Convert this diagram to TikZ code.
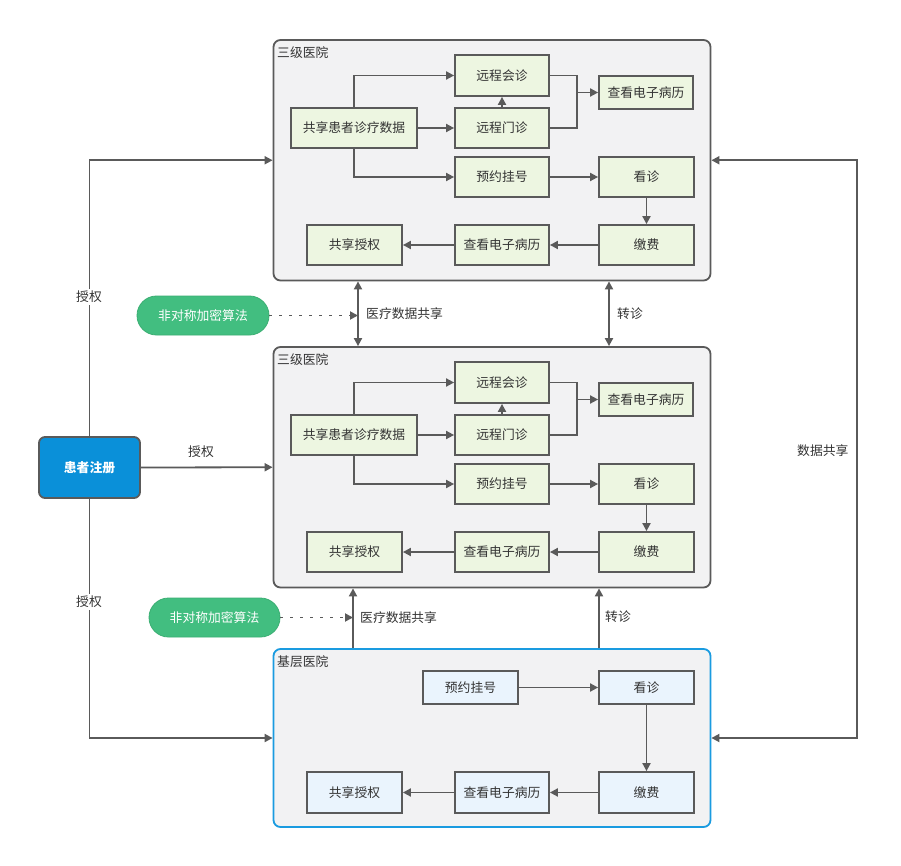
\documentclass[tikz,border=0pt]{standalone}
\usepackage{fontspec}
\setmainfont{Noto Sans CJK SC}
\usetikzlibrary{arrows.meta,calc}
\definecolor{linec}{HTML}{5A5A5A}
\definecolor{boxfill}{HTML}{F2F2F3}
\definecolor{greenfill}{HTML}{EDF6E1}
\definecolor{bluefill}{HTML}{EAF4FD}
\definecolor{hblue}{HTML}{1A9BE0}
\definecolor{patfill}{HTML}{0A90D9}
\definecolor{pillc}{HTML}{42BE80}
\definecolor{pillb}{HTML}{3AAE72}
\definecolor{txt}{HTML}{333333}
\tikzset{
  tip/.tip={Triangle[length=8pt,width=8pt]},
  plain/.style={draw=linec, line width=1.8pt},
  conn/.style={plain, -tip},
  dbl/.style={plain, tip-tip},
  dotconn/.style={draw=linec, line width=1.8pt, dash pattern=on 3pt off 7pt, -tip},
  txtf/.style={text=txt, font=\fontsize{12.8}{15}\selectfont},
  hosp/.style={draw=linec, line width=1.8pt, fill=boxfill, rounded corners=7pt, minimum width=437pt, minimum height=240.5pt, inner sep=0pt},
  gbox/.style={draw=linec, line width=1.8pt, fill=greenfill, inner sep=0pt, minimum width=94pt, minimum height=40pt, txtf},
  bbox/.style={gbox, fill=bluefill},
  pill/.style={draw=pillb, line width=0.8pt, fill=pillc, rounded corners=19.5pt, minimum width=132pt, minimum height=39pt, inner sep=0pt, text=white, font=\fontsize{12.8}{15}\selectfont},
  lab/.style={txtf, inner sep=0pt},
  wlab/.style={txtf, fill=white, inner sep=2pt},
}
\begin{document}
\begin{tikzpicture}[x=1pt,y=-1pt]
\useasboundingbox (0,0) rectangle (901,866);
\fill[white] (0,0) rectangle (901,866);

% tertiary hospitals
\foreach \i/\dy in {1/0,2/307}{
  \begin{scope}[yshift=-\dy pt]
    \node[hosp] (H\i) at (492,160.25) {};
    \node[lab, anchor=west] (t\i) at (277,53) {三级医院};
    \node[gbox, minimum width=126pt] (sh\i) at (354,128) {共享患者诊疗数据};
    \node[gbox, minimum height=41pt] (rc\i) at (502,75.5) {远程会诊};
    \node[gbox] (ro\i) at (502,128) {远程门诊};
    \node[gbox, minimum height=33pt] (ea\i) at (646,92.5) {查看电子病历};
    \node[gbox] (ap\i) at (502,177) {预约挂号};
    \node[gbox, minimum width=95pt] (dg\i) at (646.5,177) {看诊};
    \node[gbox, minimum width=95pt] (py\i) at (646.5,245) {缴费};
    \node[gbox] (eb\i) at (502,245) {查看电子病历};
    \node[gbox, minimum width=95pt] (au\i) at (354.5,245) {共享授权};
    \coordinate (m\i) at (577,92.5);
    \draw[conn] (sh\i.north) |- (rc\i.west);
    \draw[conn] (sh\i.east) -- (ro\i.west);
    \draw[conn] (sh\i.south) |- (ap\i.west);
    \draw[conn] (ro\i.north) -- (rc\i.south);
    \draw[plain] (rc\i.east) -| (m\i);
    \draw[plain] (ro\i.east) -| (m\i);
    \draw[conn] (m\i) -- (ea\i.west);
    \draw[conn] (ap\i.east) -- (dg\i.west);
    \draw[conn] (dg\i.south) -- (py\i.north);
    \draw[conn] (py\i.west) -- (eb\i.east);
    \draw[conn] (eb\i.west) -- (au\i.east);
  \end{scope}
}

% primary hospital
\node[hosp, draw=hblue, minimum height=178pt] (H3) at (492,738) {};
\node[lab, anchor=west] (t3) at (277,662) {基层医院};
\node[bbox, minimum width=95pt, minimum height=33pt] (bap) at (470.5,687.5) {预约挂号};
\node[bbox, minimum width=95pt, minimum height=33pt] (bdg) at (646.5,687.5) {看诊};
\node[bbox, minimum width=95pt, minimum height=41pt] (bpy) at (646.5,792.5) {缴费};
\node[bbox, minimum height=41pt] (beb) at (502,792.5) {查看电子病历};
\node[bbox, minimum width=95pt, minimum height=41pt] (bau) at (354.5,792.5) {共享授权};
\draw[conn] (bap.east) -- (bdg.west);
\draw[conn] (bdg.south) -- (bpy.north);
\draw[conn] (bpy.west) -- (beb.east);
\draw[conn] (beb.west) -- (bau.east);

% patient
\node[draw=linec, line width=1.8pt, fill=patfill, rounded corners=6pt, minimum width=101pt, minimum height=61pt, inner sep=0pt, text=white, font=\fontsize{12.8}{15}\selectfont\bfseries] (pat) at (89.5,467.5) {患者注册};
\draw[conn] (pat.north) |- (H1.west);
\draw[conn] (pat.east) -- (H2.west);
\draw[conn] (pat.south) |- (H3.west);
\node[wlab] (la1) at (89,297) {授权};
\node[lab] (la2) at (201,452) {授权};
\node[wlab] (la3) at (89,602) {授权};

% right data sharing
\coordinate (rt) at (857,450);
\draw[dbl] (H1.east) -| (rt) |- (H3.east);
\node[lab, anchor=west] (ds) at (797,451) {数据共享};

% between H1 and H2
\coordinate (v1) at (358,315);
\coordinate (v2) at (609,315);
\draw[dbl] (H1.south -| v1) -- (H2.north -| v1);
\draw[dbl] (H1.south -| v2) -- (H2.north -| v2);
\node[lab, anchor=west] (l1) at (366,314) {医疗数据共享};
\node[lab, anchor=west] (l2) at (617,314) {转诊};
\node[pill] (p1) at (203,315.5) {非对称加密算法};
\draw[dotconn] (p1.east) -- (p1.east -| v1);

% between H2 and H3
\coordinate (v3) at (353,618);
\coordinate (v4) at (599,618);
\draw[conn] (H3.north -| v3) -- (H2.south -| v3);
\draw[conn] (H3.north -| v4) -- (H2.south -| v4);
\node[lab, anchor=west] (l3) at (360,618) {医疗数据共享};
\node[lab, anchor=west] (l4) at (605,617) {转诊};
\node[pill, minimum width=131pt] (p2) at (214.5,617.5) {非对称加密算法};
\draw[dotconn] (p2.east) -- (p2.east -| v3);
\end{tikzpicture}
\end{document}
